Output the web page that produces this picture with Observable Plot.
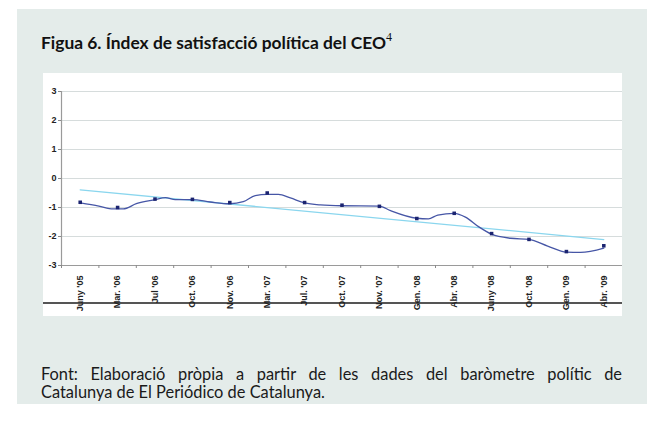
<!DOCTYPE html>
<html>
<head>
<meta charset="utf-8">
<script src="https://cdn.jsdelivr.net/npm/d3@7"></script>
<script src="https://cdn.jsdelivr.net/npm/@observablehq/plot@0.6"></script>
<style>
  html, body { margin: 0; padding: 0; background: #ffffff; }
  body { width: 647px; height: 428px; position: relative; overflow: hidden; }
  #panel { position: absolute; left: 17px; top: 9px; width: 630px; height: 395px; background: #e4ecea; }
  #title { position: absolute; left: 41px; top: 33px; font-family: Lato, "Open Sans", sans-serif; font-weight: 700; font-size: 17.4px; color: #111; white-space: nowrap; line-height: 20px; }
  #title sup { font-family: "Liberation Serif", "DejaVu Serif", serif; font-weight: 400; font-size: 12px; position: relative; top: -1px; vertical-align: super; line-height: 0; }
  #box { position: absolute; left: 43px; top: 73px; width: 579px; height: 243px; background: #ffffff; overflow: hidden; }
  #rule { position: absolute; left: 43px; top: 302px; width: 579px; height: 2px; background: #555; }
  #chart { position: absolute; left: 43px; top: 73px; }
  .cap { position: absolute; left: 41px; width: 581px; font-family: Lato, "Open Sans", sans-serif; font-size: 16.4px; color: #1a1a1a; line-height: 18px; white-space: nowrap; }
  #cap1 { top: 365px; text-align: justify; text-align-last: justify; }
  #cap2 { top: 383px; }
</style>
</head>
<body>
<div id="panel"></div>
<div id="title">Figua 6. Índex de satisfacció política del CEO<sup>4</sup></div>
<div id="box"></div>
<div id="rule"></div>
<div id="chart"></div>
<div class="cap" id="cap1">Font: Elaboració pròpia a partir de les dades del baròmetre polític de</div>
<div class="cap" id="cap2">Catalunya de El Periódico de Catalunya.</div>
<script>
// Categories (x axis labels)
const categories = ["Juny '05","Mar. '06","Jul '06","Oct. '06","Nov. '06","Mar. '07","Jul. '07","Oct. '07","Nov. '07","Gen. '08","Abr. '08","Juny '08","Oct. '08","Gen. '09","Abr. '09"];
// Marker values (index of satisfaction) per category
const markerValues = [-0.82,-1.0,-0.71,-0.72,-0.83,-0.5,-0.83,-0.92,-0.96,-1.38,-1.2,-1.9,-2.1,-2.52,-2.32];
// Smoothed line: positions (category index) and values
const linePos = [0,0.5,0.88,1.15,1.5,2,2.28,2.54,3,3.48,4,4.36,4.68,5,5.3,5.62,6,6.42,7,8,8.3,9,9.31,9.56,10,10.3,10.65,11,11.51,12,12.5,13,13.38,14];
const lineVal = [-0.84,-0.95,-1.05,-1.05,-0.87,-0.73,-0.66,-0.73,-0.73,-0.81,-0.87,-0.80,-0.59,-0.55,-0.55,-0.67,-0.84,-0.91,-0.94,-0.95,-1.11,-1.37,-1.39,-1.26,-1.20,-1.33,-1.66,-1.92,-2.06,-2.10,-2.33,-2.54,-2.55,-2.40];
// Y tick values
const yTicks = [-3,-2,-1,0,1,2,3];

const markers = categories.map((c, i) => ({i, v: markerValues[i]}));
const linePts = linePos.map((p, k) => ({p, v: lineVal[k]}));
const idx = d3.range(categories.length);
const bounds = d3.range(categories.length + 1).map(i => i - 0.5);

const plot = Plot.plot({
  width: 579,
  height: 243,
  marginLeft: 18,
  marginRight: 0,
  marginTop: 18,
  marginBottom: 51,
  style: {background: "transparent", fontFamily: "'Liberation Sans', Arial, sans-serif", fontSize: "9px", fontWeight: "700", color: "#222"},
  x: {domain: [-0.5, categories.length - 0.5]},
  y: {domain: [-3, 3]},
  marks: [
    Plot.gridY(yTicks, {stroke: "#d6dcdc", strokeOpacity: 1, strokeWidth: 1.2}),
    Plot.ruleY([-3], {stroke: "#9a9a9a", strokeWidth: 1.2}),
    Plot.ruleX([-0.5], {stroke: "#9a9a9a", strokeWidth: 1.2}),
    Plot.axisY({ticks: yTicks, tickSize: 3, tickPadding: 2, tickFormat: d => String(d), label: null, stroke: "#8a8a8a"}),
    Plot.axisX({ticks: bounds, tickSize: 3, tickFormat: () => "", label: null, stroke: "#8a8a8a"}),
    Plot.axisX({ticks: idx, tickSize: 0, tickPadding: 10, tickRotate: -90, tickFormat: i => categories[i], label: null}),
    Plot.linearRegressionY(markers, {x: "i", y: "v", stroke: "#8ad6ee", strokeWidth: 1.3, ci: 0}),
    Plot.line(linePts, {x: "p", y: "v", stroke: "#4656a6", strokeWidth: 1.3, curve: "monotone-x"}),
    Plot.dot(markers, {x: "i", y: "v", symbol: "square", r: 2, fill: "#1b2470", stroke: null})
  ]
});
document.getElementById("chart").appendChild(plot);
</script>
</body>
</html>
